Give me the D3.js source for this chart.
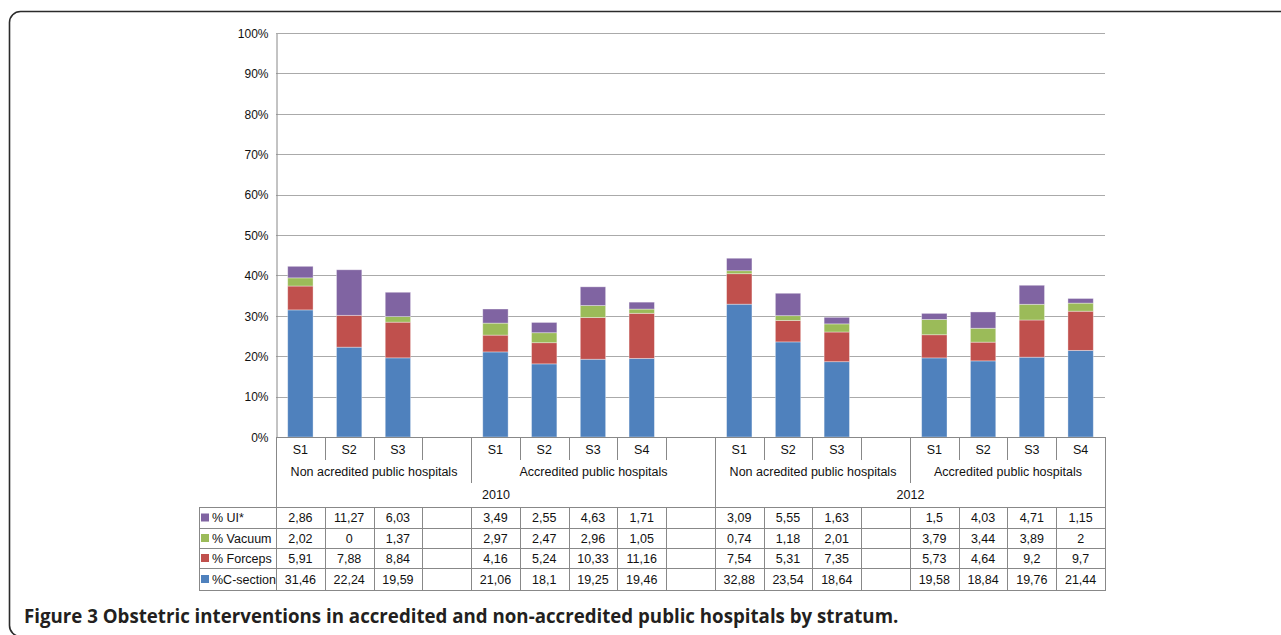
<!DOCTYPE html>
<html><head><meta charset="utf-8">
<script src="https://cdn.jsdelivr.net/npm/d3@7"></script>
<style>
html,body{margin:0;padding:0;background:#fff;}
svg{display:block;}
text{font-family:"Liberation Sans",Arial,Helvetica,sans-serif;fill:#111;}
</style></head>
<body>
<svg id="chart" width="1281" height="635"></svg>
<script>
// ---- data ----
const slotLabels = ["S1","S2","S3","","S1","S2","S3","S4","","S1","S2","S3","","S1","S2","S3","S4"];
const cSection = [31.46,22.24,19.59,null,21.06,18.1,19.25,19.46,null,32.88,23.54,18.64,null,19.58,18.84,19.76,21.44];
const forceps  = [5.91,7.88,8.84,null,4.16,5.24,10.33,11.16,null,7.54,5.31,7.35,null,5.73,4.64,9.2,9.7];
const vacuum   = [2.02,0,1.37,null,2.97,2.47,2.96,1.05,null,0.74,1.18,2.01,null,3.79,3.44,3.89,2];
const ui       = [2.86,11.27,6.03,null,3.49,2.55,4.63,1.71,null,3.09,5.55,1.63,null,1.5,4.03,4.71,1.15];
const seriesNames = ["%C-section","% Forceps","% Vacuum","% UI*"];
const groupLabels = ["Non acredited public hospitals","Accredited public hospitals","Non acredited public hospitals","Accredited public hospitals"];
const groupStarts = [0,4,9,13];
const groupEnds   = [4,9,13,17];
const yearLabels = ["2010","2012"];
const yearStarts = [0,9];
const yearEnds   = [9,17];
const yTicks = [0,10,20,30,40,50,60,70,80,90,100];
const caption = "Figure 3 Obstetric interventions in accredited and non-accredited public hospitals by stratum.";

const colors = ["#4F81BD","#C0504D","#9BBB59","#8064A2"];

const svg = d3.select("#chart");

// frame
svg.append("rect").attr("x",9.5).attr("y",11.5).attr("width",1400).attr("height",625)
  .attr("rx",11).attr("fill","none").attr("stroke","#2b2b2b").attr("stroke-width",1.6);

const L=276, R=1105, T=33, B=437;
const ids = d3.range(slotLabels.length);
const xCell = d3.scaleBand().domain(ids).range([L,R]).padding(0);
const xBar = d3.scaleBand().domain(ids).range([L,R]).paddingInner(0.48).paddingOuter(0.24);
const y = d3.scaleLinear().domain([0,100]).range([B,T]);

// gridlines
svg.append("g").selectAll("line").data(yTicks.filter(d=>d>0)).join("line")
  .attr("x1",L).attr("x2",R).attr("y1",d=>Math.round(y(d))+0.5).attr("y2",d=>Math.round(y(d))+0.5)
  .attr("stroke","#aaaaaa").attr("stroke-width",1);

// y axis
const yAxis = d3.axisLeft(y).tickValues(yTicks).tickFormat(d=>d+"%").tickSize(0).tickPadding(8);
const gy = svg.append("g").attr("transform",`translate(${L+0.5},0.5)`).call(yAxis);
gy.select(".domain").attr("stroke","#888");
gy.selectAll(".tick text").attr("font-size",12).attr("fill","#111")
  .attr("font-family","'Liberation Sans',Arial,sans-serif");

// stacked bars
const stackRows = ids.filter(i=>cSection[i]!==null).map(i=>({id:i, c:cSection[i], f:forceps[i], v:vacuum[i], u:ui[i]}));
const stack = d3.stack().keys(["c","f","v","u"])(stackRows);
svg.append("g").selectAll("g").data(stack).join("g").attr("fill",(d,i)=>colors[i])
  .selectAll("rect").data(d=>d).join("rect")
  .attr("x",d=>xBar(d.data.id)).attr("width",xBar.bandwidth())
  .attr("y",d=>y(d[1])).attr("height",d=>y(d[0])-y(d[1]))
  .attr("stroke","#ffffff").attr("stroke-opacity",0.45).attr("stroke-width",0.8);

// category table lines
const lineCol = "#888";
const g = svg.append("g").attr("stroke",lineCol).attr("stroke-width",1);
const bx = i => Math.round(xCell(i) ?? R) + 0.5;
const rowS = 460, rowG = 483, rowY = 507, rows=[507,528,548,568,590];
d3.range(0,18).forEach(k=>{
  let y2 = rowS;
  if (groupStarts.includes(k) || k===17) y2 = rowG;
  if (yearStarts.includes(k) || k===17) y2 = rowY;
  g.append("line").attr("x1",bx(k)).attr("x2",bx(k)).attr("y1",B).attr("y2",y2);
});
g.append("line").attr("x1",L).attr("x2",R+0.5).attr("y1",B+0.5).attr("y2",B+0.5);

// slot labels
svg.append("g").selectAll("text").data(ids).join("text")
  .attr("x",i=>xCell(i)+xCell.bandwidth()/2).attr("y",453.5).attr("text-anchor","middle")
  .attr("font-size",12.5).text(i=>slotLabels[i]);
// group labels
svg.append("g").selectAll("text").data(groupLabels).join("text")
  .attr("x",(d,i)=>(bx(groupStarts[i])+bx(groupEnds[i]))/2).attr("y",475.5).attr("text-anchor","middle")
  .attr("font-size",12.5).text(d=>d);
// years
svg.append("g").selectAll("text").data(yearLabels).join("text")
  .attr("x",(d,i)=>(bx(yearStarts[i])+bx(yearEnds[i]))/2).attr("y",498.5).attr("text-anchor","middle")
  .attr("font-size",12.5).text(d=>d);

// data table
const TL = 199;
const tableRows = [ui, vacuum, forceps, cSection];
const tableNames = ["% UI*","% Vacuum","% Forceps","%C-section"];
const tableCols = [colors[3],colors[2],colors[1],colors[0]];
rows.forEach(r=>g.append("line").attr("x1",TL).attr("x2",R+1).attr("y1",r+0.5).attr("y2",r+0.5));
g.append("line").attr("x1",TL+0.5).attr("x2",TL+0.5).attr("y1",rows[0]).attr("y2",rows[4]+0.5);
d3.range(0,18).forEach(k=>g.append("line").attr("x1",bx(k)).attr("x2",bx(k)).attr("y1",rows[0]).attr("y2",rows[4]+0.5));

tableRows.forEach((arr,ri)=>{
  const yc = (rows[ri]+rows[ri+1])/2;
  svg.append("rect").attr("x",201).attr("y",yc-4).attr("width",8).attr("height",8).attr("fill",tableCols[ri]);
  svg.append("text").attr("x",212).attr("y",yc+4.5).attr("font-size",12.5).text(tableNames[ri]);
  svg.append("g").selectAll("text").data(ids.filter(i=>arr[i]!==null)).join("text")
    .attr("x",i=>xCell(i)+xCell.bandwidth()/2).attr("y",yc+4.5).attr("text-anchor","middle")
    .attr("font-size",12.5).text(i=>String(arr[i]).replace(".",","));
});

// caption
svg.append("text").attr("x",24).attr("y",623).attr("font-size",18.7)
  .attr("font-weight","bold").style("font-family","'Open Sans','Noto Sans',sans-serif").style("fill","#231f20")
  .text(caption);
</script>
</body></html>
